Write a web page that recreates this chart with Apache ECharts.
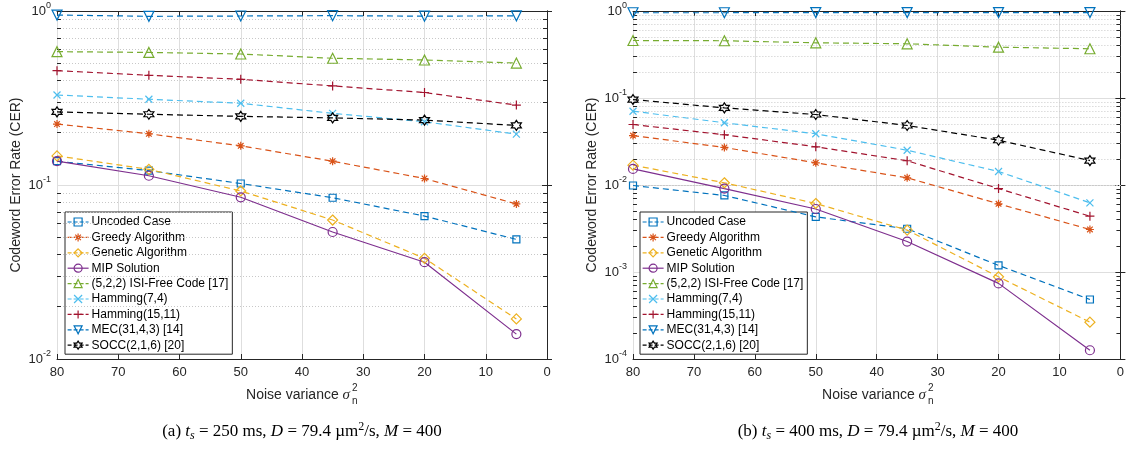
<!DOCTYPE html>
<html>
<head>
<meta charset="utf-8">
<script src="https://cdn.jsdelivr.net/npm/echarts@6/dist/echarts.min.js"></script>
<style>
  html, body { margin: 0; padding: 0; background: #fff; }
  #chart { width: 1127px; height: 451px; }
</style>
</head>
<body>
<div id="chart"></div>
<script>
// noise variance (x axis)
const noise = [80, 65, 50, 35, 20, 5]

// (a) t_s = 250 ms
const uncodedA = [0.137, 0.121, 0.102, 0.0845, 0.0663, 0.0487]
const greedyA = [0.224, 0.197, 0.168, 0.137, 0.109, 0.0778]
const geneticA = [0.147, 0.123, 0.0924, 0.0629, 0.0379, 0.0170]
const mipA = [0.137, 0.113, 0.085, 0.0537, 0.036, 0.0139]
const isiA = [0.584, 0.578, 0.566, 0.535, 0.523, 0.502]
const ham74A = [0.329, 0.311, 0.295, 0.258, 0.231, 0.196]
const ham1511A = [0.454, 0.427, 0.405, 0.371, 0.340, 0.288]
const mecA = [0.948, 0.932, 0.936, 0.940, 0.934, 0.938]
const soccA = [0.263, 0.255, 0.248, 0.243, 0.236, 0.220]

// (b) t_s = 400 ms
const uncodedB = [0.00987, 0.00758, 0.0043, 0.00314, 0.00119, 0.000483]
const greedyB = [0.037, 0.027, 0.018, 0.0121, 0.00608, 0.00308]
const geneticB = [0.0169, 0.0106, 0.00613, 0.00303, 0.00088, 0.000265]
const mipB = [0.0153, 0.0091, 0.0053, 0.00224, 0.00074, 0.000126]
const isiB = [0.458, 0.455, 0.431, 0.420, 0.384, 0.368]
const ham74B = [0.0705, 0.0519, 0.0388, 0.0251, 0.0143, 0.00624]
const ham1511B = [0.0496, 0.0378, 0.0275, 0.019, 0.0091, 0.00438]
const mecB = [0.955, 0.955, 0.960, 0.960, 0.960, 0.960]
const soccB = [0.096, 0.077, 0.0646, 0.0483, 0.0327, 0.0191]

const names = [
	'Uncoded Case', 'Greedy Algorithm', 'Genetic Algorithm', 'MIP Solution',
	'(5,2,2) ISI-Free Code [17]', 'Hamming(7,4)', 'Hamming(15,11)',
	'MEC(31,4,3) [14]', 'SOCC(2,1,6) [20]'
]
const minorFactors = [2, 3, 4, 5, 6, 7, 8, 9]

const font = 'Liberation Sans, Arial, Helvetica, sans-serif'
const serif = 'Liberation Serif, Times New Roman, serif'
const axisColor = '#262626'
const dash = [6, 4]

// six pointed star outline
function hexagram() {
	let d = ''
	for (let k = 0; k < 12; k++) {
		const a = (90 + 30 * k) * Math.PI / 180
		const r = k % 2 ? 0.577 : 1
		d += (k ? 'L' : 'M') + (10 + 10 * r * Math.cos(a)).toFixed(2) + ',' + (10 - 10 * r * Math.sin(a)).toFixed(2)
	}
	return 'path://' + d + 'Z'
}

const styles = [
	{ color: '#0072BD', symbol: 'rect', size: 7, dash: true },
	{ color: '#D95319', symbol: 'path://M5,0L5,10M0,5L10,5M1.5,1.5L8.5,8.5M1.5,8.5L8.5,1.5', size: 8, dash: true },
	{ color: '#EDB120', symbol: 'diamond', size: 10, dash: true },
	{ color: '#7E2F8E', symbol: 'circle', size: 9, dash: false },
	{ color: '#77AC30', symbol: 'triangle', size: 10, dash: true },
	{ color: '#4DBEEE', symbol: 'path://M0,0L10,10M0,10L10,0', size: 7, dash: true },
	{ color: '#A2142F', symbol: 'path://M5,0L5,10M0,5L10,5', size: 9, dash: true },
	{ color: '#0072BD', symbol: 'triangle', size: 10, dash: true, rotate: 180 },
	{ color: '#000000', symbol: hexagram(), size: 10, dash: true }
]

function makeSeries(name, vals, g, st) {
	return {
		name: name,
		type: 'line',
		xAxisIndex: g * 2,
		yAxisIndex: g * 2,
		data: noise.map((x, i) => [x, vals[i]]),
		symbol: st.symbol,
		symbolSize: st.size,
		symbolRotate: st.rotate || 0,
		showAllSymbol: true,
		z: 5,
		lineStyle: { color: st.color, width: 1.2, type: st.dash ? dash : 'solid' },
		itemStyle: { color: 'rgba(255,255,255,0)', borderColor: st.color, borderWidth: 1.2 },
		emphasis: { disabled: true },
		animation: false
	}
}

// minor log grid and ticks drawn through the axis scale
function minorSeries(g, lowExp) {
	const lines = []
	const ticks = []
	for (let e = lowExp; e < 0; e++) {
		minorFactors.forEach(f => {
			const v = f * Math.pow(10, e)
			lines.push({ yAxis: v })
			ticks.push([{ coord: [80, v] }, { coord: [79.35, v] }])
			ticks.push([{ coord: [0, v] }, { coord: [0.65, v] }])
		})
	}
	return [{
		type: 'line', xAxisIndex: g * 2, yAxisIndex: g * 2, data: [], z: 1, silent: true,
		markLine: {
			silent: true, symbol: ['none', 'none'], label: { show: false }, animation: false,
			lineStyle: { color: '#c8c8c8', width: 1, type: [1, 2] },
			data: lines
		}
	}, {
		type: 'line', xAxisIndex: g * 2, yAxisIndex: g * 2, data: [], z: 6, silent: true,
		markLine: {
			silent: true, symbol: ['none', 'none'], label: { show: false }, animation: false,
			lineStyle: { color: axisColor, width: 1, type: 'solid' },
			data: ticks
		}
	}]
}

const yLabel = {
	color: axisColor,
	fontFamily: font,
	margin: 6,
	formatter: v => '{b|10}{e|' + Math.round(Math.log10(v)) + '}',
	rich: {
		b: { fontSize: 13, fontFamily: font, color: axisColor, verticalAlign: 'middle' },
		e: { fontSize: 9, fontFamily: font, color: axisColor, verticalAlign: 'middle', padding: [0, 0, 10, 0] }
	}
}

function xAxes(g) {
	const base = {
		gridIndex: g, type: 'value', min: 0, max: 80, interval: 10, inverse: true,
		axisLine: { show: true, lineStyle: { color: axisColor, width: 1 } },
		axisTick: { show: true, inside: true, length: 5, lineStyle: { color: axisColor } }
	}
	return [
		Object.assign({}, base, {
			position: 'bottom',
			axisLabel: { color: axisColor, fontSize: 13, fontFamily: font, margin: 7 },
			splitLine: { show: true, lineStyle: { color: '#dedede', width: 1 } }
		}),
		Object.assign({}, base, {
			position: 'top', axisLabel: { show: false }, splitLine: { show: false }
		})
	]
}

function yAxes(g, min) {
	const base = {
		gridIndex: g, type: 'log', logBase: 10, min: min, max: 1,
		axisLine: { show: true, lineStyle: { color: axisColor, width: 1 } },
		axisTick: { show: true, inside: true, length: 5, lineStyle: { color: axisColor } }
	}
	return [
		Object.assign({}, base, {
			position: 'left',
			name: 'Codeword Error Rate (CER)',
			nameLocation: 'middle',
			nameGap: 34,
			nameTextStyle: { color: axisColor, fontSize: 14, fontFamily: font },
			axisLabel: yLabel,
			splitLine: { show: true, lineStyle: { color: '#dedede', width: 1 } }
		}),
		Object.assign({}, base, {
			position: 'right', axisLabel: { show: false }, splitLine: { show: false }
		})
	]
}

function legend(left) {
	return {
		data: names.map((n, i) => ({
			name: n,
			itemStyle: { color: 'rgba(255,255,255,0)', borderColor: styles[i].color, borderWidth: 1.2 },
			lineStyle: { color: styles[i].color, width: 1.2, type: styles[i].dash ? [4, 2] : 'solid' }
		})),
		orient: 'vertical',
		left: left,
		top: 212,
		itemWidth: 21,
		itemHeight: 10,
		itemGap: 3.4,
		padding: [4, 4, 3, 2],
		backgroundColor: '#fff',
		borderColor: axisColor,
		borderWidth: 1,
		borderRadius: 0,
		selectedMode: false,
		textStyle: { fontSize: 12, fontFamily: font, color: '#000', padding: [0, 0, 0, -2] }
	}
}

function xName(cx) {
	return [{
		type: 'text', x: cx, y: 395,
		style: {
			text: '{t|Noise variance }{s|σ}', align: 'right', verticalAlign: 'middle',
			rich: {
				t: { fontSize: 14, fontFamily: font, fill: axisColor },
				s: { fontSize: 15, fontFamily: serif, fontStyle: 'italic', fill: axisColor }
			}
		}
	}, {
		type: 'text', x: cx + 2, y: 395,
		style: {
			text: '2\nn', align: 'left', verticalAlign: 'middle', lineHeight: 13,
			fontSize: 10, fontFamily: font, fill: axisColor
		}
	}]
}

function caption(cx, tag, ts) {
	const r = { fontSize: 17, fontFamily: serif, fill: '#000', verticalAlign: 'middle' }
	return {
		type: 'text', x: cx, y: 432,
		style: {
			text: '{r|(' + tag + ') }{i|t}{sub|s}{r| = ' + ts + ' ms, }{i|D}{r| = 79.4 µm}{sup|2}{r|/s, }{i|M}{r| = 400}',
			align: 'center', verticalAlign: 'middle',
			rich: {
				r: r,
				i: Object.assign({}, r, { fontStyle: 'italic' }),
				sub: Object.assign({}, r, { fontSize: 12, fontStyle: 'italic', padding: [8, 0, 0, 0] }),
				sup: Object.assign({}, r, { fontSize: 12, padding: [0, 0, 10, 0] })
			}
		}
	}
}

const dataA = [uncodedA, greedyA, geneticA, mipA, isiA, ham74A, ham1511A, mecA, soccA]
const dataB = [uncodedB, greedyB, geneticB, mipB, isiB, ham74B, ham1511B, mecB, soccB]

const series = []
series.push(...minorSeries(0, -2))
series.push(...minorSeries(1, -4))
names.forEach((n, i) => series.push(makeSeries(n, dataA[i], 0, styles[i])))
names.forEach((n, i) => series.push(makeSeries(n, dataB[i], 1, styles[i])))

const option = {
	backgroundColor: '#fff',
	animation: false,
	grid: [
		{ left: 57, right: 580, top: 11, bottom: 92 },
		{ left: 633, right: 4, top: 11, bottom: 92 }
	],
	xAxis: [...xAxes(0), ...xAxes(1)],
	yAxis: [...yAxes(0, 0.01), ...yAxes(1, 0.0001)],
	legend: [legend(65), legend(640)],
	series: series,
	graphic: [...xName(350), ...xName(926), caption(302, 'a', 250), caption(878, 'b', 400)]
}

const chartDom = echarts.init(document.getElementById('chart'))
chartDom.setOption(option, true)
</script>
</body>
</html>
